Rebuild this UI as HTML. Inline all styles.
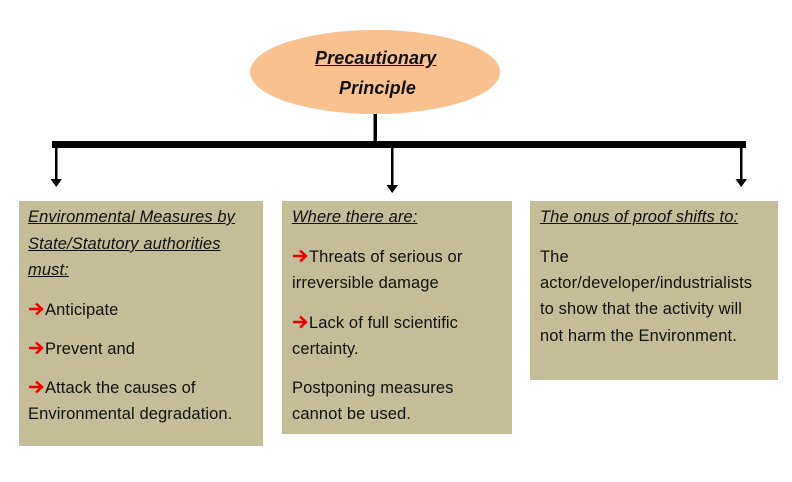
<!DOCTYPE html>
<html><head><meta charset="utf-8"><style>
html,body{margin:0;padding:0;background:#fff;}
body{width:792px;height:482px;position:relative;overflow:hidden;font-family:"Liberation Sans",sans-serif;color:#111;}
.box{position:absolute;background:#c4bd97;}
.t{position:absolute;font-size:16.5px;line-height:20px;white-space:nowrap;letter-spacing:0.1px;}
.h{font-style:italic;text-decoration:underline;}
.r{display:inline-block;width:16px;height:14px;vertical-align:-1px;margin-right:1px;}
</style></head><body>
<svg width="0" height="0" style="position:absolute"><defs><symbol id="ar" viewBox="0 0 16 14"><path d="M1 7 H14 M8 1.5 L14 7 L8 12.5" stroke="#ee0000" stroke-width="2.4" fill="none"/></symbol></defs></svg>
<svg width="792" height="482" style="position:absolute;left:0;top:0">
<ellipse cx="375" cy="72" rx="125" ry="42" fill="#f9c090"/>
<rect x="373.5" y="114" width="3.5" height="30" fill="#000"/>
<rect x="52" y="141" width="694" height="7" fill="#000"/>
<rect x="55" y="148" width="2.5" height="32" fill="#000"/>
<polygon points="50.5,179 62,179 56.2,187" fill="#000"/>
<rect x="391" y="148" width="2.5" height="38" fill="#000"/>
<polygon points="386.5,185 398,185 392.2,193" fill="#000"/>
<rect x="740" y="148" width="2.5" height="32" fill="#000"/>
<polygon points="735.5,179 747,179 741.2,187" fill="#000"/>
</svg>
<div class="t" style="left:315px;top:48px;font-size:18px;font-weight:bold;font-style:italic;text-decoration:underline;">Precautionary</div>
<div class="t" style="left:339px;top:78px;font-size:18px;font-weight:bold;font-style:italic;">Principle</div>

<div class="box" style="left:19px;top:201px;width:244px;height:245px"></div>
<div class="box" style="left:282px;top:201px;width:230px;height:233px"></div>
<div class="box" style="left:530px;top:201px;width:248px;height:179px"></div>

<div class="t h" style="left:28px;top:207px">Environmental Measures by</div>
<div class="t h" style="left:28px;top:234px">State/Statutory authorities</div>
<div class="t h" style="left:28px;top:260px">must:</div>
<div class="t" style="left:28px;top:300px"><svg class="r"><use href="#ar"/></svg>Anticipate</div>
<div class="t" style="left:28px;top:339px"><svg class="r"><use href="#ar"/></svg>Prevent and</div>
<div class="t" style="left:28px;top:378px"><svg class="r"><use href="#ar"/></svg>Attack the causes of</div>
<div class="t" style="left:28px;top:404px">Environmental degradation.</div>

<div class="t h" style="left:292px;top:207px">Where there are:</div>
<div class="t" style="left:292px;top:247px"><svg class="r"><use href="#ar"/></svg>Threats of serious or</div>
<div class="t" style="left:292px;top:273px">irreversible damage</div>
<div class="t" style="left:292px;top:313px"><svg class="r"><use href="#ar"/></svg>Lack of full scientific</div>
<div class="t" style="left:292px;top:339px">certainty.</div>
<div class="t" style="left:292px;top:378px">Postponing measures</div>
<div class="t" style="left:292px;top:404px">cannot be used.</div>

<div class="t h" style="left:540px;top:207px">The onus of proof shifts to:</div>
<div class="t" style="left:540px;top:247px">The</div>
<div class="t" style="left:540px;top:273px">actor/developer/industrialists</div>
<div class="t" style="left:540px;top:299px">to show that the activity will</div>
<div class="t" style="left:540px;top:326px">not harm the Environment.</div>
</body></html>
